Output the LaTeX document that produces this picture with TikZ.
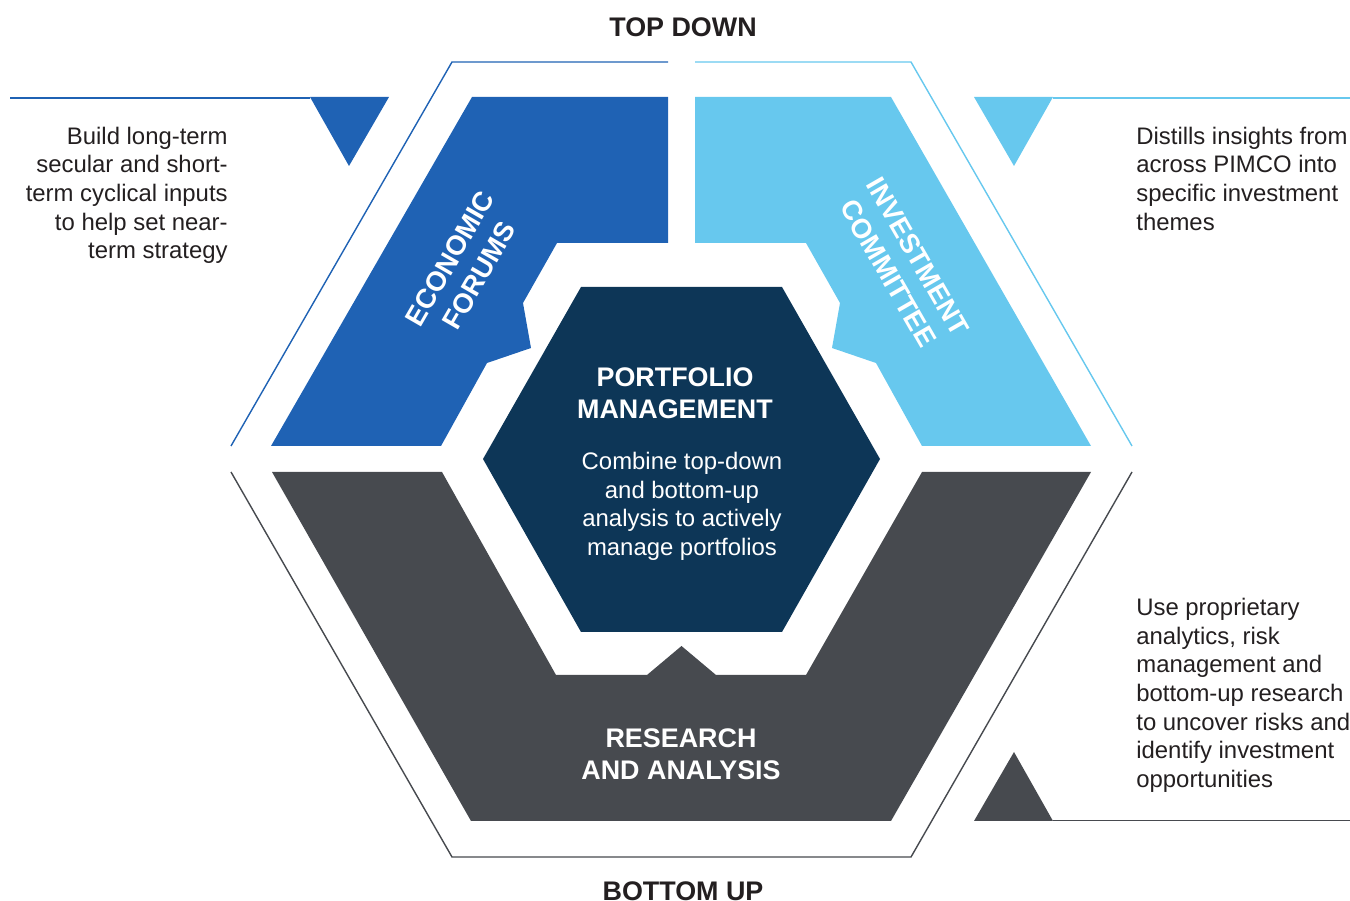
\documentclass[tikz,border=0pt]{standalone}
\usepackage{fontspec}
\setmainfont{Liberation Sans}
\definecolor{econblue}{HTML}{1F62B4}
\definecolor{icblue}{HTML}{67C8EE}
\definecolor{pmnavy}{HTML}{0D3657}
\definecolor{ragray}{HTML}{474A4F}
\definecolor{textgray}{HTML}{231F20}
\begin{document}
\begin{tikzpicture}[x=0.02cm,y=-0.02cm]
		\tikzset{side/.style = {font=\fontsize{13.6}{16.3}\selectfont, inner sep=0pt},
			head/.style = {font=\bfseries\fontsize{15.3}{18.1}\selectfont, inner sep=0pt, align=center},
			tilted/.style = {font=\bfseries\fontsize{15.6}{19.3}\selectfont, inner sep=0pt, align=center, text=white},
			rim/.style = {line width=0.8pt}}

		\useasboundingbox (0,0) rectangle (1350,901);

		% outer rims
		\draw[rim, econblue] (231,446) -- (452,62) -- (668,62);
		\draw[rim, icblue] (695,62) -- (911,62) -- (1132,446);
		\draw[rim, ragray] (231,472) -- (452,857) -- (911,857) -- (1132,472);

		% pieces
		\fill[econblue] (472,97) -- (668,97) -- (668,243) -- (557,243) -- (523,303) -- (531,348) -- (487,363) -- (441,446) -- (271,446) -- cycle;
		\fill[icblue] (695,97) -- (891,97) -- (1091,446) -- (922,446) -- (876,363) -- (832,348) -- (840,303) -- (806,243) -- (695,243) -- cycle;
		\fill[ragray] (272,472) -- (442,472) -- (556,675) -- (647,675) -- (681.5,646) -- (716,675) -- (806,675) -- (922,472) -- (1091,472) -- (891,821) -- (471,821) -- cycle;
		\fill[pmnavy] (581,287) -- (782,287) -- (880,459) -- (782,632) -- (581,632) -- (483,459) -- cycle;

		% callouts
		\draw[rim, econblue] (10,98) -- (310,98);
		\fill[econblue] (310,97) -- (389,97) -- (349,166) -- cycle;
		\draw[rim, icblue] (1053,98) -- (1350,98);
		\fill[icblue] (974,97) -- (1053,97) -- (1014,166) -- cycle;
		\draw[rim, ragray] (1053,820.5) -- (1350,820.5);
		\fill[ragray] (974,821) -- (1053,821) -- (1014,752) -- cycle;

		\node[side, text=textgray, anchor=north east, align=right] (build) at (228,126.5) {Build long-term\\secular and short-\\term cyclical inputs\\to help set near-\\term strategy};
		\node[side, text=textgray, anchor=north west, align=left] (distill) at (1136,126.5) {Distills insights from\\across PIMCO into\\specific investment\\themes};
		\node[side, text=textgray, anchor=north west, align=left] (useprop) at (1136,598) {Use proprietary\\analytics, risk\\management and\\bottom-up research\\to uncover risks and\\identify investment\\opportunities};

		\node[head, text=textgray] (topdown) at (683,27) {TOP DOWN};
		\node[head, text=textgray] (bottomup) at (683,891) {BOTTOM UP};
		\node[head, text=white] (pm) at (675,393) {PORTFOLIO\\MANAGEMENT};
		\node[side, text=white, anchor=north, align=center] (combine) at (682,452) {Combine top-down\\and bottom-up\\analysis to actively\\manage portfolios};
		\node[head, text=white] (ra) at (681,754) {RESEARCH\\AND ANALYSIS};
		\node[tilted, rotate=60] (ef) at (464.5,267) {ECONOMIC\\FORUMS};
		\node[tilted, rotate=-60] (ic) at (903,265) {INVESTMENT\\COMMITTEE};

	\end{tikzpicture}
\end{document}
